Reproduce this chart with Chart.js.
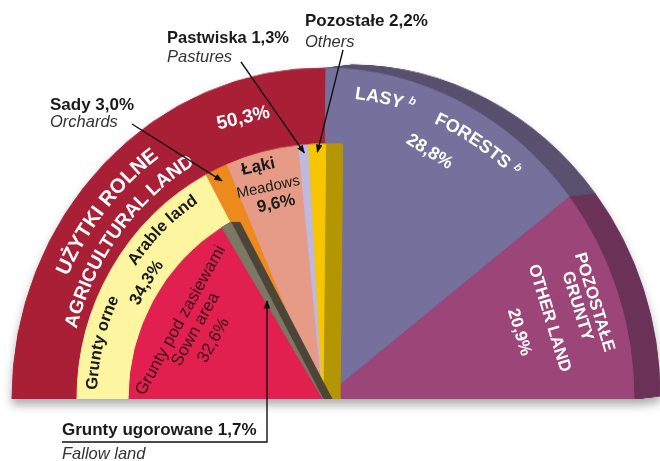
<!DOCTYPE html>
<html lang="pl">
<head>
<meta charset="utf-8">
<title>Struktura użytkowania gruntów</title>
<script src="https://cdn.jsdelivr.net/npm/chart.js@4.4.1/dist/chart.umd.min.js"></script>
<style>
  html, body { margin: 0; padding: 0; background: #fff; }
  #stage { position: relative; width: 660px; height: 461px; overflow: hidden; }
  #pie { position: absolute; left: 0; top: 0; width: 660px; height: 461px;
         filter: drop-shadow(0 6px 5px rgba(0,0,0,0.32)); }
  #pie canvas { position: absolute; transform-origin: 50% 100%; }
  #notes { position: absolute; left: 0; top: 0; }
  #notes text { font-family: "Liberation Sans", Arial, Helvetica, sans-serif; }
</style>
</head>
<body>
<div id="stage">
  <div id="pie">
    <canvas id="sideLayer"></canvas>
    <canvas id="landLayer"></canvas>
    <canvas id="restSideLayer"></canvas>
    <canvas id="agriLayer"></canvas>
    <canvas id="fallowSideLayer"></canvas>
    <canvas id="arableLayer"></canvas>
  </div>
  <svg id="notes" width="660" height="461" xmlns="http://www.w3.org/2000/svg">
    <defs>
      <marker id="tip" viewBox="0 0 10 10" refX="9" refY="5" markerWidth="6" markerHeight="6" orient="auto">
        <path d="M0,1 L10,5 L0,9 z" fill="#111"/>
      </marker>
    </defs>
  </svg>
</div>
<script>
// Land use, % of total area
const landUse = ['Użytki rolne', 'Lasy', 'Pozostałe grunty'];
const landUseShare = [50.3, 28.8, 20.9];

// Agricultural land by use
const agriParts = ['Grunty orne', 'Sady', 'Łąki', 'Pastwiska', 'Pozostałe'];
const agriShare = [34.3, 3.0, 9.6, 1.3, 2.2];

// Arable land by use
const arableParts = ['Grunty pod zasiewami', 'Grunty ugorowane'];
const arableShare = [32.6, 1.7];

const pct = v => v.toFixed(1).replace('.', ',') + '%';

// inner rings keep forests and other land so that all angles line up
const innerLabels = agriParts.concat(landUse.slice(1));
const innerShare = agriShare.concat(landUseShare.slice(1));
const coreLabels = arableParts.concat(agriParts.slice(1), landUse.slice(1));
const coreShare = arableShare.concat(agriShare.slice(1), landUseShare.slice(1));

const BASE_Y = 399;
const CX = 323;
const NONE = 'rgba(0,0,0,0)';
const COL = {
  agri: '#a91f36', forest: '#76709c', other: '#9c4578',
  forestSide: '#58516f', otherSide: '#6c3359',
  arable: '#fdf5a0', orchard: '#ec8a1e', meadow: '#e69b86', pasture: '#bfbadd',
  rest: '#f7c600', restSide: '#b59700',
  sown: '#e1204f', fallow: '#7d7765', fallowSide: '#4d463a'
};

// half-pie layers; sy stretches a layer upwards, dx/dy extrude it into a solid side
const GEOM = {
  land:   { cx: CX, r: 311, sy: 1.064 },
  agri:   { cx: CX, r: 246, sy: 1.035 },
  arable: { cx: CX, r: 194, sy: 1.035 }
};

// draws the dataset repeatedly along an offset, giving a thick "side" to the slices
const extrude = {
  id: 'extrude',
  beforeDatasetsDraw(chart, args, opts) {
    const dx = opts.dx || 0, dy = opts.dy || 0;
    if (!dx && !dy) return;
    const steps = Math.ceil(Math.max(Math.abs(dx), Math.abs(dy)) * 1.5);
    const ctx = chart.ctx;
    for (let i = steps; i >= 1; i--) {
      ctx.save();
      ctx.translate(dx * i / steps, dy * i / steps);
      chart.getDatasetMeta(0).controller.draw();
      ctx.restore();
    }
  }
};

function halfPie(id, g, labels, data, colors, ext) {
  ext = ext || { dx: 0, dy: 0 };
  const padL = 2, padR = 2 + Math.max(0, ext.dx), padT = 2 + Math.max(0, -ext.dy);
  const cv = document.getElementById(id);
  cv.width = 2 * g.r + padL + padR;
  cv.height = g.r + padT;
  Object.assign(cv.style, {
    left: (g.cx - g.r - padL) + 'px', top: (BASE_Y - g.r - padT) + 'px',
    width: cv.width + 'px', height: cv.height + 'px', transform: 'scaleY(' + g.sy + ')'
  });
  const chart = new Chart(cv, {
    type: 'pie',
    data: { labels, datasets: [{ data, backgroundColor: colors, borderColor: colors, borderWidth: 1, hoverOffset: 0 }] },
    options: {
      responsive: false, maintainAspectRatio: false, animation: false, devicePixelRatio: 1, events: [],
      rotation: -90, circumference: 180, radius: g.r,
      layout: { padding: { left: padL, right: padR, top: padT, bottom: 0 } },
      plugins: { legend: { display: false }, tooltip: { enabled: false }, extrude: ext }
    },
    plugins: [extrude]
  });
  chart.$g = g;
  chart.$cv = cv;
  return chart;
}

// back to front
halfPie('sideLayer', GEOM.land, landUse, landUseShare,
  [NONE, COL.forestSide, COL.otherSide], { dx: 26, dy: -3 });
const landChart = halfPie('landLayer', GEOM.land, landUse, landUseShare,
  [COL.agri, COL.forest, COL.other]);
halfPie('restSideLayer', GEOM.agri, innerLabels, innerShare,
  [NONE, NONE, NONE, NONE, COL.restSide, NONE, NONE], { dx: 17, dy: 0 });
const agriChart = halfPie('agriLayer', GEOM.agri, innerLabels, innerShare,
  [COL.arable, COL.orchard, COL.meadow, COL.pasture, COL.rest, NONE, NONE]);
halfPie('fallowSideLayer', GEOM.arable, coreLabels, coreShare,
  [NONE, COL.fallowSide, NONE, NONE, NONE, NONE, NONE, NONE], { dx: 9, dy: 0 });
const arableChart = halfPie('arableLayer', GEOM.arable, coreLabels, coreShare,
  [COL.sown, COL.fallow, NONE, NONE, NONE, NONE, NONE, NONE]);

// ---- annotations ----
const svg = document.getElementById('notes');
const NS = 'http://www.w3.org/2000/svg';
function el(tag, attrs, parent) {
  const e = document.createElementNS(NS, tag);
  for (const k in attrs) e.setAttribute(k, attrs[k]);
  (parent || svg).appendChild(e);
  return e;
}

// page position of a point on the mid line of a slice
function arcPoint(chart, index, frac) {
  const arc = chart.getDatasetMeta(0).data[index];
  const a = (arc.startAngle + arc.endAngle) / 2;
  const rho = arc.outerRadius * frac;
  const px = arc.x + rho * Math.cos(a), py = arc.y + rho * Math.sin(a);
  const left = parseFloat(chart.$cv.style.left), h = chart.$cv.height;
  return [left + px, BASE_Y - chart.$g.sy * (h - py)];
}
function arcPointAtX(chart, index, pageX) {
  const arc = chart.getDatasetMeta(0).data[index];
  const a = (arc.startAngle + arc.endAngle) / 2;
  const left = parseFloat(chart.$cv.style.left), h = chart.$cv.height;
  const rho = (pageX - left - arc.x) / Math.cos(a);
  const py = arc.y + rho * Math.sin(a);
  return [pageX, BASE_Y - chart.$g.sy * (h - py)];
}

function text(str, x, y, o) {
  o = o || {};
  const attrs = {
    x, y, fill: o.fill || '#1a1a1a', 'font-size': o.size || 16,
    'font-weight': o.weight || 'normal', 'font-style': o.style || 'normal',
    'text-anchor': o.anchor || 'start'
  };
  if (o.rot !== undefined) {
    attrs['text-anchor'] = 'middle';
    attrs['dominant-baseline'] = 'central';
    attrs.transform = 'rotate(' + o.rot + ' ' + x + ' ' + y + ')';
  }
  const t = el('text', attrs);
  t.textContent = str;
  return t;
}

let pathId = 0;
function arcText(str, r, k, centerDeg, o, sup) {
  const span = 45;
  const p = a => [CX + r * Math.cos(a * Math.PI / 180), BASE_Y - k * r * Math.sin(a * Math.PI / 180)];
  const [x1, y1] = p(centerDeg + span), [x2, y2] = p(centerDeg - span);
  const id = 'lp' + (pathId++);
  el('path', { id, d: `M${x1},${y1} A${r},${k * r} 0 0 1 ${x2},${y2}`, fill: 'none' }, svg.querySelector('defs'));
  const t = el('text', { fill: o.fill, 'font-size': o.size, 'font-weight': o.weight || 'bold' });
  const tp = el('textPath', { href: '#' + id, startOffset: '50%', 'text-anchor': 'middle' }, t);
  tp.appendChild(document.createTextNode(str));
  if (sup) {
    const s = el('tspan', { 'font-size': 11, 'font-style': 'italic', dy: -7 }, tp);
    s.textContent = sup;
  }
  return t;
}

const WHITE = '#ffffff', DARK = '#1a1a1a', MAROON = '#3a0d1a';

// outer ring
arcText('UŻYTKI ROLNE', 280, 1.064, 140, { fill: WHITE, size: 20.5 });
arcText('AGRICULTURAL LAND', 255, 1.064, 142, { fill: WHITE, size: 19 });
text(pct(landUseShare[0]), 243, 117, { fill: WHITE, size: 19, weight: 'bold', rot: -13 });

arcText('LASY ', 284, 1.064, 78, { fill: WHITE, size: 18 }, 'b');
arcText('FORESTS ', 282, 1.064, 58, { fill: WHITE, size: 18 }, 'b');
text(pct(landUseShare[1]), 430, 151, { fill: WHITE, size: 18, weight: 'bold', rot: 32 });

text('POZOSTAŁE', 595, 302, { fill: WHITE, size: 17, weight: 'bold', rot: 73 });
text('GRUNTY', 578, 306, { fill: WHITE, size: 17, weight: 'bold', rot: 73 });
text('OTHER LAND', 550, 318, { fill: WHITE, size: 17, weight: 'bold', rot: 73 });
text(pct(landUseShare[2]), 520, 332, { fill: WHITE, size: 17, weight: 'bold', rot: 73 });

// agricultural ring
arcText('Grunty orne', 226, 1.035, 166, { fill: DARK, size: 16.5 });
arcText('Arable land', 227, 1.035, 134, { fill: DARK, size: 16.5 });
arcText(pct(agriShare[0]), 205, 1.035, 147, { fill: DARK, size: 17 });

text('Łąki', 258, 166, { fill: DARK, size: 17, weight: 'bold', rot: -12 });
text('Meadows', 268, 186, { fill: DARK, size: 15, rot: -12 });
text(pct(agriShare[2]), 276, 203, { fill: DARK, size: 17, weight: 'bold', rot: -12 });

// arable core
text('Grunty pod zasiewami', 180, 320, { fill: MAROON, size: 17, rot: -61 });
text('Sown area', 195, 329, { fill: MAROON, size: 17, rot: -61 });
text(pct(arableShare[0]), 213, 340, { fill: MAROON, size: 17, rot: -61 });

// callouts outside the pie
text('Pozostałe ' + pct(agriShare[4]), 305, 26, { size: 17, weight: 'bold' });
text('Others', 305, 47, { size: 16.5, style: 'italic', fill: '#333' });
text('Pastwiska ' + pct(agriShare[3]), 167, 43, { size: 16.5, weight: 'bold' });
text('Pastures', 167, 62, { size: 16.5, style: 'italic', fill: '#333' });
text('Sady ' + pct(agriShare[1]), 50, 110, { size: 17, weight: 'bold' });
text('Orchards', 50, 127, { size: 16.5, style: 'italic', fill: '#333' });
text('Grunty ugorowane ' + pct(arableShare[1]), 62, 435, { size: 17, weight: 'bold' });
text('Fallow land', 62, 459, { size: 16.5, style: 'italic', fill: '#333' });

// leader lines
const lineStyle = { stroke: '#111', 'stroke-width': 1.4, fill: 'none', 'marker-end': 'url(#tip)' };
let t = arcPoint(agriChart, 1, 0.95);
el('line', Object.assign({ x1: 132, y1: 124, x2: t[0], y2: t[1] }, lineStyle));
t = arcPoint(agriChart, 3, 0.97);
el('line', Object.assign({ x1: 241, y1: 62, x2: t[0], y2: t[1] }, lineStyle));
t = arcPoint(agriChart, 4, 0.97);
el('line', Object.assign({ x1: 343, y1: 50, x2: t[0], y2: t[1] }, lineStyle));
t = arcPointAtX(arableChart, 1, 267);
el('polyline', Object.assign({ points: `62,442 267,442 ${t[0]},${t[1] + 3}` }, lineStyle));
</script>
</body>
</html>
